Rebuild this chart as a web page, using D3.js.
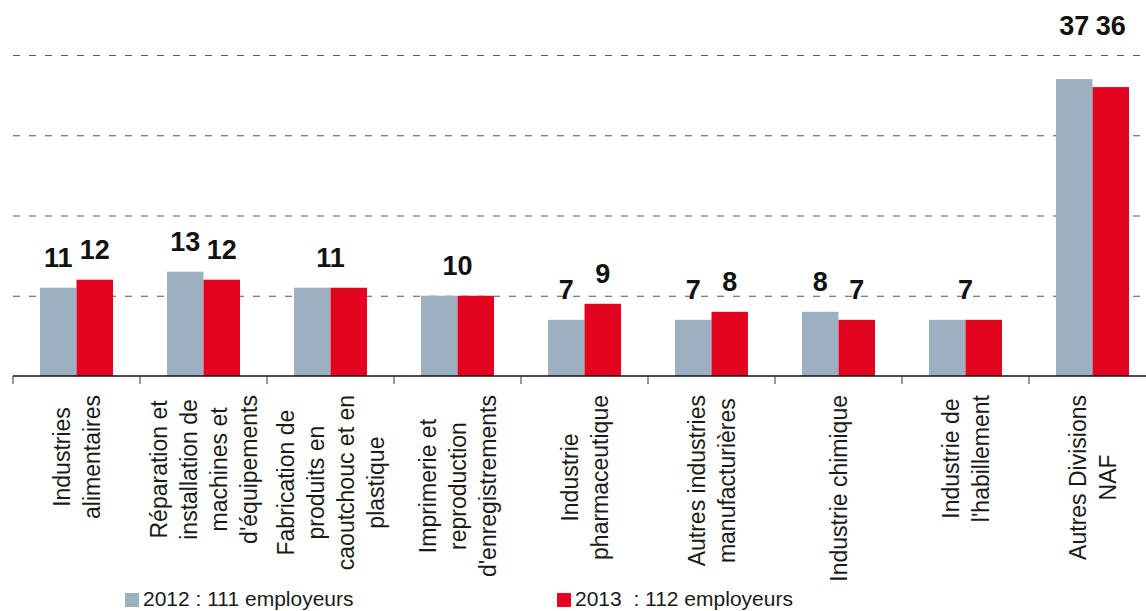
<!DOCTYPE html>
<html>
<head>
<meta charset="utf-8">
<script src="https://cdn.jsdelivr.net/npm/d3@7"></script>
<style>
  body { margin: 0; background: #fff; }
  svg { display: block; font-family: 'Liberation Sans', Arial, Helvetica, sans-serif; }
</style>
</head>
<body>
<div class="container"></div>
<script>
let categories = [
  ['Industries', 'alimentaires'],
  ['Réparation et', 'installation de', 'machines et', "d'équipements"],
  ['Fabrication de', 'produits en', 'caoutchouc et en', 'plastique'],
  ['Imprimerie et', 'reproduction', "d'enregistrements"],
  ['Industrie', 'pharmaceutique'],
  ['Autres industries', 'manufacturières'],
  ['Industrie chimique'],
  ['Industrie de', "l'habillement"],
  ['Autres Divisions', 'NAF']
];
let values2012 = [11, 13, 11, 10, 7, 7, 8, 7, 37];
let values2013 = [12, 12, 11, 10, 9, 8, 7, 7, 36];
let seriesNames = ['2012', '2013'];
let legendLabels = ['2012 : 111 employeurs', '2013  : 112 employeurs'];
let gridTicks = [10, 20, 30, 40];

let width = 1146;
let height = 611;
let colors = { '2012': '#9cb0c1', '2013': '#e3051f' };

let svg = d3
  .select('.container')
  .append('svg')
  .attr('width', width)
  .attr('height', height);

let ids = categories.map((c, i) => i);

let x = d3.scaleBand().domain(ids).range([13, 1156]).padding(0);
let x1 = d3
  .scaleBand()
  .domain(seriesNames)
  .range([0, x.bandwidth()])
  .paddingInner(0)
  .paddingOuter(0.74);
let y = d3.scaleLinear().domain([0, 40]).range([376, 55]);

// dashed grid
let grid = svg
  .append('g')
  .attr('transform', 'translate(13,0)')
  .call(d3.axisLeft(y).tickValues(gridTicks).tickSize(-(width - 13)).tickFormat(''));
grid.select('.domain').remove();
grid
  .selectAll('.tick line')
  .attr('stroke', '#555')
  .attr('stroke-width', 1)
  .attr('stroke-dasharray', '7,9');

let rows = ids.map((i) => ({ i: i, '2012': values2012[i], '2013': values2013[i] }));

// bars
let groups = svg
  .append('g')
  .selectAll('g')
  .data(rows)
  .enter()
  .append('g')
  .attr('transform', (d) => 'translate(' + x(d.i) + ',0)');

groups
  .selectAll('rect')
  .data((d) => seriesNames.map((s) => ({ s: s, v: d[s] })))
  .enter()
  .append('rect')
  .attr('x', (d) => x1(d.s))
  .attr('y', (d) => y(d.v))
  .attr('width', x1.bandwidth())
  .attr('height', (d) => y(0) - y(d.v))
  .attr('fill', (d) => colors[d.s]);

// value labels (tall bars get their label above the top gridline)
let labelY = (v) => (v > 30 ? y(40) - 20 : y(v) - 21);
groups.each(function (d) {
  let g = d3.select(this);
  let items;
  if (d['2012'] === d['2013']) {
    items = [{ cx: x.bandwidth() / 2, v: d['2012'] }];
  } else {
    items = seriesNames.map((s) => ({ cx: x1(s) + x1.bandwidth() / 2, v: d[s] }));
  }
  g.selectAll('text.val')
    .data(items)
    .enter()
    .append('text')
    .attr('class', 'val')
    .attr('x', (e) => e.cx)
    .attr('y', (e) => labelY(e.v))
    .attr('text-anchor', 'middle')
    .style('font-size', '27px')
    .style('font-weight', 'bold')
    .style('fill', '#111')
    .text((e) => e.v);
});

// baseline and ticks
svg
  .append('line')
  .attr('x1', 13)
  .attr('x2', width)
  .attr('y1', y(0))
  .attr('y2', y(0))
  .attr('stroke', '#111')
  .attr('stroke-width', 1.5);

svg
  .append('g')
  .selectAll('line')
  .data(ids)
  .enter()
  .append('line')
  .attr('x1', (d) => x(d))
  .attr('x2', (d) => x(d))
  .attr('y1', y(0))
  .attr('y2', y(0) + 8)
  .attr('stroke', '#333')
  .attr('stroke-width', 1);

// category labels
let lineH = 30;
let catGroups = svg
  .append('g')
  .selectAll('g')
  .data(ids)
  .enter()
  .append('g');

catGroups.each(function (i) {
  let g = d3.select(this);
  let lines = categories[i];
  let n = lines.length;
  let texts = g
    .selectAll('text')
    .data(lines)
    .enter()
    .append('text')
    .attr('x', 0)
    .attr('y', (t, k) => (k - (n - 1) / 2) * lineH)
    .attr('dy', '0.35em')
    .attr('text-anchor', 'middle')
    .style('font-size', '23px')
    .style('fill', '#1a1a1a')
    .text((t) => t);
  let maxLen = d3.max(texts.nodes(), (node) => node.getComputedTextLength());
  let cx = x(i) + x.bandwidth() / 2;
  g.attr('transform', 'translate(' + cx + ',' + (395 + maxLen / 2) + ') rotate(-90)');
});

// legend
let legendX = [125, 557];
let legend = svg
  .append('g')
  .selectAll('g')
  .data(seriesNames)
  .enter()
  .append('g')
  .attr('transform', (d, i) => 'translate(' + legendX[i] + ',593)');

legend
  .append('rect')
  .attr('width', 14)
  .attr('height', 14)
  .attr('fill', (d) => colors[d]);

legend
  .append('text')
  .attr('x', 18)
  .attr('y', 13)
  .style('font-size', '21px')
  .style('fill', '#1a1a1a')
  .style('white-space', 'pre')
  .text((d, i) => legendLabels[i]);
</script>
</body>
</html>
